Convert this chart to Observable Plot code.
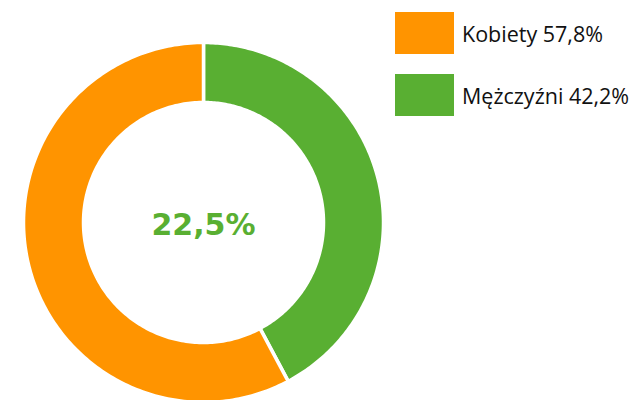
<!DOCTYPE html>
<html>
<head>
<meta charset="utf-8">
<script src="https://cdn.jsdelivr.net/npm/d3@7"></script>
<script src="https://cdn.jsdelivr.net/npm/@observablehq/plot@0.6"></script>
<style>
  html, body { margin: 0; padding: 0; background: #fff; }
  #wrap { position: relative; width: 634px; height: 400px; overflow: hidden; }
  #legend { position: absolute; left: 395px; top: 12px; font-family: "Open Sans", sans-serif; }
  .item { display: flex; align-items: center; height: 42px; margin-bottom: 20px; }
  .sw { width: 59px; height: 42px; margin-right: 8px; flex: none; }
  .lab { font-size: 21.5px; color: #111; white-space: nowrap; }
</style>
</head>
<body>
<div id="wrap"><div id="chart"></div><div id="legend"></div></div>
<script>
// Data
const categories = ["Kobiety", "Mężczyźni"];
const shares = [57.8, 42.2];           // percent
const legendLabels = ["Kobiety 57,8%", "Mężczyźni 42,2%"];
const colors = ["#FF9400", "#59AF32"];
const centerLabel = "22,5%";
// drawing order clockwise from 12 o'clock
const pieOrder = ["Mężczyźni", "Kobiety"];

const innerRatio = 120 / 180;
const total = d3.sum(shares);
const pts = [];
let start = 0;
for (const cat of pieOrder) {
  const v = shares[categories.indexOf(cat)];
  const a0 = start / total * 2 * Math.PI;
  const a1 = (start + v) / total * 2 * Math.PI;
  const n = 200;
  const outer = d3.range(n + 1).map(i => a0 + (a1 - a0) * i / n);
  for (const a of outer) pts.push({cat, x: Math.sin(a), y: Math.cos(a)});
  for (const a of outer.slice().reverse()) pts.push({cat, x: innerRatio * Math.sin(a), y: innerRatio * Math.cos(a)});
  start += v;
}

const chart = Plot.plot({
  width: 634,
  height: 400,
  margin: 0,
  x: {domain: [-1, 1], range: [23, 383], axis: null},
  y: {domain: [-1, 1], range: [402, 42], axis: null},
  color: {domain: categories, range: colors},
  marks: [
    Plot.line(pts, {x: "x", y: "y", z: "cat", fill: "cat", stroke: "white", strokeWidth: 3.5, curve: "linear-closed"}),
    Plot.text([centerLabel], {x: () => 0, y: () => 0, text: d => d, fill: colors[1], fontSize: 30, fontWeight: "bold", fontFamily: "'DejaVu Sans', sans-serif", dy: 3})
  ]
});
document.getElementById("chart").appendChild(chart);

const legend = document.getElementById("legend");
categories.forEach((c, i) => {
  const item = document.createElement("div");
  item.className = "item";
  item.innerHTML = `<div class="sw" style="background:${colors[i]}"></div><span class="lab">${legendLabels[i]}</span>`;
  legend.appendChild(item);
});
</script>
</body>
</html>
